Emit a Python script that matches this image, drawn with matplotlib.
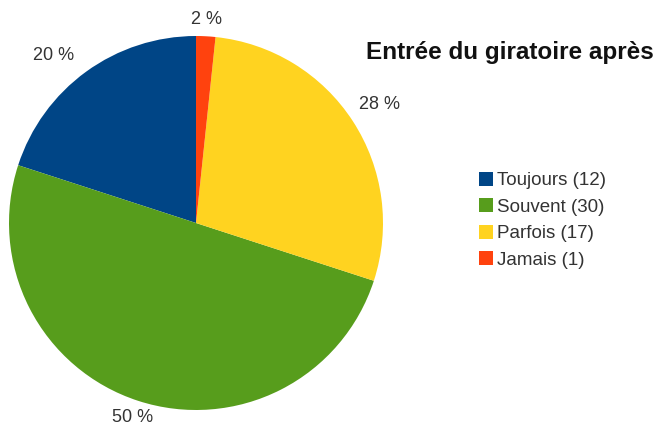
import matplotlib
matplotlib.use("Agg")
import matplotlib.pyplot as plt
import numpy as np
from matplotlib.patches import Patch

plt.rcParams["font.family"] = ["Liberation Sans", "DejaVu Sans"]

# données
categories = ["Toujours", "Souvent", "Parfois", "Jamais"]
valeurs = [12, 30, 17, 1]
couleurs = ["#004586", "#579d1c", "#ffd320", "#ff420e"]
titre = "Entrée du giratoire après"

total = sum(valeurs)
etiquettes = ["%d %%" % round(v * 100.0 / total) for v in valeurs]

fig = plt.figure(figsize=(6.6, 4.28), dpi=100)
# axe carré centré sur le camembert (centre ~ (196, 223) px, rayon ~187 px)
cx, cy, r = 196, 223, 187
ax = fig.add_axes([(cx - r) / 660, (428 - cy - r) / 428, 2 * r / 660, 2 * r / 428])
wedges, texts = ax.pie(valeurs, colors=couleurs, labels=etiquettes,
                       startangle=90, counterclock=True, radius=1,
                       labeldistance=1.09,
                       textprops={"fontsize": 13, "color": "#333333"},
                       wedgeprops={"linewidth": 0})
# position des étiquettes, un peu ajustée par part
dist = [1.11, 1.095, 1.08, 1.09]
decal = [0, 0, 3, 0]
for w, t, d, da in zip(wedges, texts, dist, decal):
    a = np.deg2rad((w.theta1 + w.theta2) / 2 + da)
    t.set_position((d * np.cos(a), d * np.sin(a)))
    if abs(np.cos(a)) < 0.5:
        t.set_ha("center")
ax.set_xlim(-1, 1)
ax.set_ylim(-1, 1)
ax.set_aspect("auto")
ax.axis("off")

fig.text(510 / 660, 1 - 53 / 428, titre, ha="center", va="center",
         fontsize=17.5, fontweight="bold", color="#111111")

handles = [Patch(facecolor=c, edgecolor="none") for c in couleurs]
noms = ["%s (%d)" % (c, v) for c, v in zip(categories, valeurs)]
leg = fig.legend(handles, noms, loc="upper left",
                 bbox_to_anchor=(479 / 660, 1 - 172 / 428),
                 frameon=False, fontsize=13.5, handlelength=0.75,
                 handleheight=0.75, handletextpad=0.2, labelspacing=0.48,
                 borderpad=0, borderaxespad=0)
for t in leg.get_texts():
    t.set_color("#333333")

plt.savefig("out.png", dpi=100)
